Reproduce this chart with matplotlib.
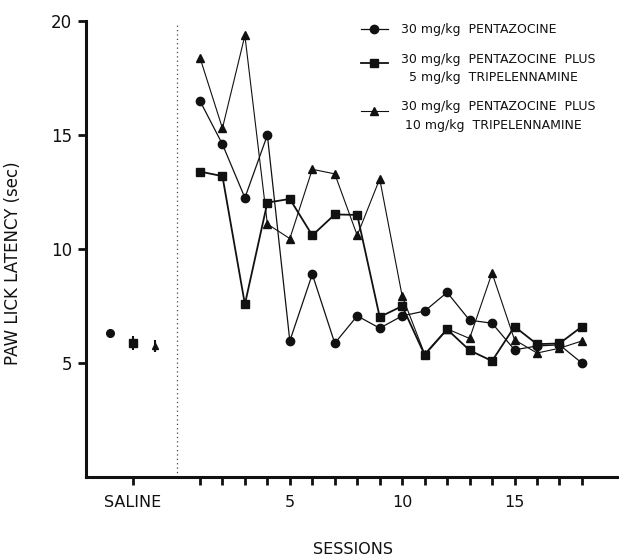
import matplotlib
matplotlib.use("Agg")
import matplotlib.pyplot as plt
from matplotlib.legend_handler import HandlerLine2D
import numpy as np

# Datos
sesiones = np.arange(1, 19)
pentazocina = [16.5, 14.6, 12.25, 15.0, 5.97, 8.9, 5.87, 7.07, 6.53,
               7.07, 7.28, 8.1, 6.88, 6.75, 5.58, 5.75, 5.8, 5.0]
mas_5_tripel = [13.4, 13.2, 7.58, 12.04, 12.2, 10.6, 11.52, 11.5, 7.02,
                7.5, 5.36, 6.48, 5.56, 5.09, 6.6, 5.83, 5.86, 6.6]
mas_10_tripel = [18.4, 15.3, 19.37, 11.1, 10.46, 13.5, 13.3, 10.6, 13.08,
                 7.94, 5.4, 6.5, 6.08, 8.95, 6.02, 5.44, 5.65, 5.97]

# Salina: posición, media y error
salina_x = [-3, -2, -1]
salina_y = [6.3, 5.87, 5.75]
salina_err = [0.2, 0.3, 0.25]

etiquetas = [
    "30 mg/kg  PENTAZOCINE",
    "30 mg/kg  PENTAZOCINE  PLUS\n  5 mg/kg  TRIPELENNAMINE",
    "30 mg/kg  PENTAZOCINE  PLUS\n 10 mg/kg  TRIPELENNAMINE",
]


class HandlerArriba(HandlerLine2D):
    """Sube el símbolo de la leyenda a la primera línea del texto."""
    def __init__(self, subir=0, **kw):
        super().__init__(**kw)
        self.subir = subir

    def create_artists(self, legend, orig_handle, xdescent, ydescent,
                       width, height, fontsize, trans):
        arts = super().create_artists(legend, orig_handle, xdescent, ydescent,
                                      width, height, fontsize, trans)
        for a in arts:
            a.set_ydata(np.asarray(a.get_ydata()) + self.subir)
        return arts


color = "#111111"
fig = plt.figure(figsize=(6.19, 5.56), dpi=100)
ax = fig.add_axes([0.139, 0.142, 0.861, 0.820])

l1, = ax.plot(sesiones, pentazocina, color=color, lw=0.9, marker="o", ms=6)
l2, = ax.plot(sesiones, mas_5_tripel, color=color, lw=1.3, marker="s", ms=6)
l3, = ax.plot(sesiones, mas_10_tripel, color=color, lw=0.8, marker="^", ms=5.5)

marcadores = ["o", "s", "^"]
for x, y, e, m in zip(salina_x, salina_y, salina_err, marcadores):
    ax.errorbar(x, y, yerr=e, fmt=m, color=color, ms=5.5 if m != "^" else 5,
                elinewidth=1.5, capsize=0)

# línea punteada que separa salina de las sesiones
ax.plot([0, 0], [0, 19.85], color="#444444", lw=0.9, ls=(0, (1, 2.5)))

ax.set_xlim(-4.07, 19.65)
ax.set_ylim(0, 20)

ax.set_yticks([5, 10, 15, 20])
ax.set_yticklabels(["5", "10", "15", "20"])
ax.set_xticks([-2] + list(sesiones))
ax.set_xticklabels(["SALINE"] + [str(s) if s % 5 == 0 else "" for s in sesiones])

for lado in ["top", "right"]:
    ax.spines[lado].set_visible(False)
for lado in ["left", "bottom"]:
    ax.spines[lado].set_linewidth(2.2)
    ax.spines[lado].set_color(color)

ax.tick_params(axis="y", direction="out", length=6, width=2, labelsize=12,
               colors=color, pad=4)
ax.tick_params(axis="x", direction="out", length=6, width=2, labelsize=11.5,
               colors=color, pad=7)

ax.set_ylabel("PAW LICK LATENCY (sec)", fontsize=12, color=color)
ax.yaxis.set_label_coords(-0.12, 0.47)
ax.set_xlabel("SESSIONS", fontsize=11.5, color=color)
ax.xaxis.set_label_coords(0.5, -0.142)

leg = ax.legend([l1, l2, l3], etiquetas, loc="upper left",
                bbox_to_anchor=(0.515, 0.995), frameon=False, fontsize=9,
                handlelength=2.2, labelspacing=1.3, handletextpad=1.0,
                borderaxespad=0, borderpad=0,
                handler_map={l2: HandlerArriba(subir=4.5),
                             l3: HandlerArriba(subir=4.0)})
for t in leg.get_texts():
    t.set_linespacing(1.55)
    t.set_color(color)

fig.savefig("out.png", dpi=100)
